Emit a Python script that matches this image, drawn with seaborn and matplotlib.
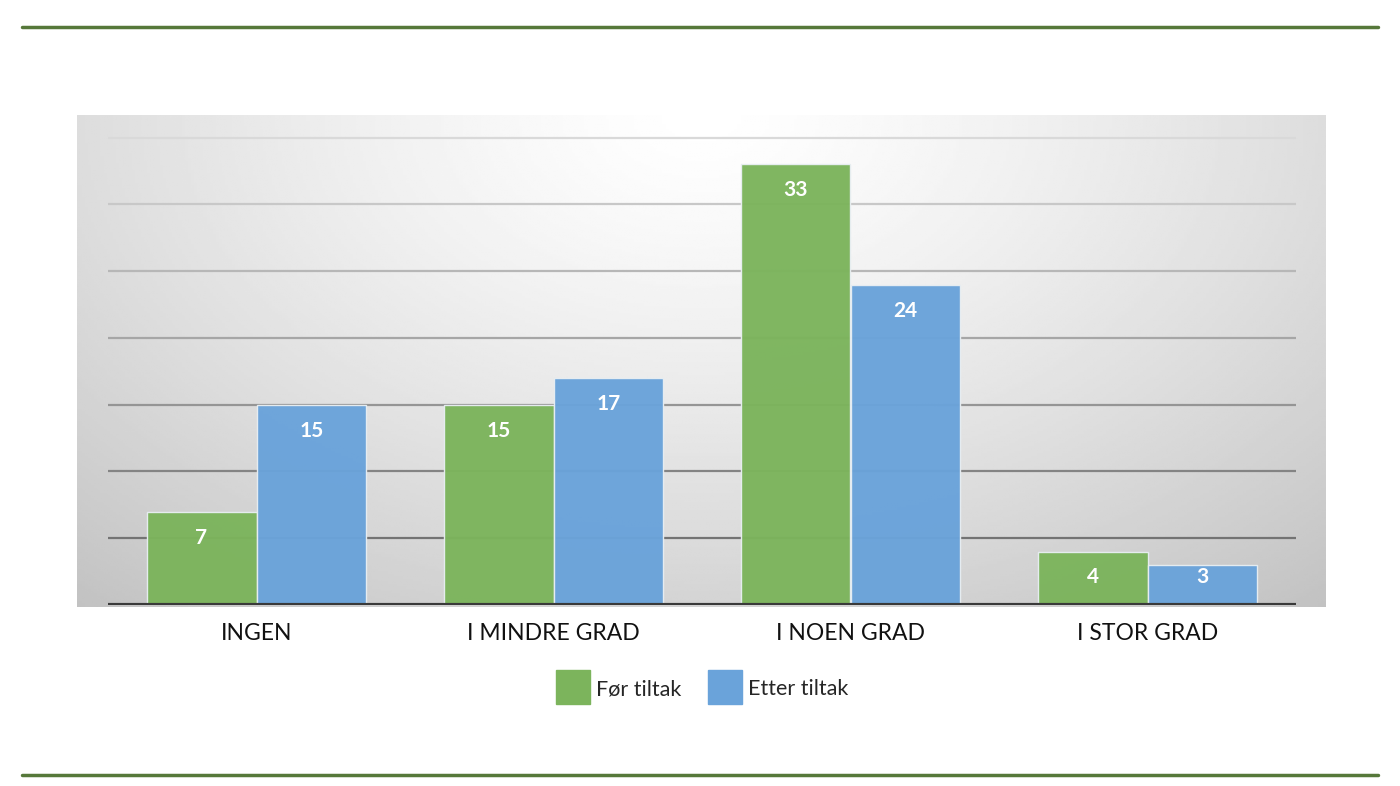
import numpy as np
import pandas as pd
import seaborn as sns
import matplotlib.pyplot as plt
from matplotlib.lines import Line2D

# data
categories = ["INGEN", "I MINDRE GRAD", "I NOEN GRAD", "I STOR GRAD"]
series = ["Før tiltak", "Etter tiltak"]
for_tiltak = [7, 15, 33, 4]
etter_tiltak = [15, 17, 24, 3]
colors = ["#7cb45c", "#6aa3da"]

df = pd.DataFrame({
    "kategori": categories * 2,
    "serie": [series[0]] * 4 + [series[1]] * 4,
    "verdi": for_tiltak + etter_tiltak,
})

sns.set_style("white")
plt.rcParams["font.family"] = ["Lato", "DejaVu Sans"]

W, H = 1400, 786
fig = plt.figure(figsize=(W / 100, H / 100), dpi=100)

# grey gradient panel behind the plot
bg = fig.add_axes([77 / W, 1 - 607 / H, (1326 - 77) / W, (607 - 115) / H])
xx, yy = np.meshgrid(np.linspace(0, 1, 400), np.linspace(0, 1, 200))
r = np.sqrt(((xx - 0.5) / 0.6) ** 2 + yy ** 2)
shade = 1 - 0.17 * r ** 1.3
bg.imshow(shade, cmap="gray", vmin=0, vmax=1, aspect="auto", origin="upper")
bg.set_axis_off()

ax = fig.add_axes([108 / W, 1 - 605 / H, (1296 - 108) / W, (605 - 115) / H])
ax.patch.set_alpha(0)
sns.barplot(data=df, x="kategori", y="verdi", hue="serie", palette=colors,
            saturation=1, width=0.74, alpha=0.97, edgecolor="#e8eef2",
            linewidth=1, legend=False, ax=ax, zorder=3)

ax.set_ylim(0, 36.7)
ax.set_xlim(-0.5, 3.5)
for t in [5, 10, 15, 20, 25, 30, 35]:
    g = 0.45 + 0.4 * (t - 5) / 30
    ax.axhline(t, color=(g, g, g), lw=1.6, zorder=1)
ax.axhline(0, color="#3a3a3a", lw=3, zorder=4)

# value labels just inside the top of each bar
for p in ax.patches:
    h = p.get_height()
    ax.text(p.get_x() + p.get_width() / 2, max(h - 1.95, 2.1), f"{h:.0f}",
            ha="center", va="center", color="white",
            fontsize=15, fontweight="bold", zorder=5)

ax.set_xlabel("")
ax.set_ylabel("")
ax.set_yticks([])
ax.tick_params(axis="x", length=0, labelsize=16.5, pad=13, colors="#111111")
sns.despine(ax=ax, left=True, bottom=True)

handles = [Line2D([], [], marker="s", ls="", markersize=25,
                  markerfacecolor=c, markeredgecolor=c) for c in colors]
fig.legend(handles, series, loc="center", bbox_to_anchor=(0.5, 1 - 689 / H),
           ncol=2, frameon=False, fontsize=15.5, handletextpad=0.1,
           columnspacing=1.0)

# green rules above and below
for y in [27, 775]:
    fig.add_artist(Line2D([22 / W, 1378 / W], [1 - y / H, 1 - y / H],
                          color="#56783a", lw=2.5))

fig.savefig("out.png", dpi=100)
